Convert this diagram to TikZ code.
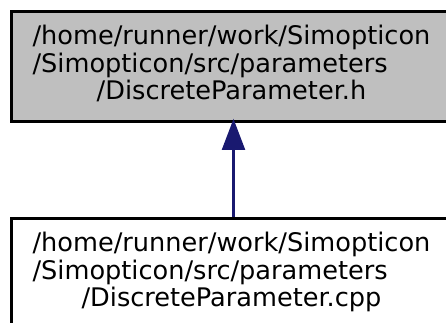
\documentclass[tikz,border=0pt]{standalone}
\usepackage{fontspec}
\setmainfont{DejaVu Sans}
\usetikzlibrary{arrows.meta}
\definecolor{boxgray}{HTML}{BFBFBF}
\definecolor{edgeblue}{HTML}{191970}
\tikzset{
  filebox/.style={draw=black, line width=2.8pt, rectangle, inner sep=0pt,
    minimum width=440pt, minimum height=110pt,
    font=\fontsize{25.6}{27.5}\selectfont},
  dep/.style={draw=edgeblue, line width=2.2pt,
    -{Triangle[length=31pt,width=23pt,fill=edgeblue]}}
}
\begin{document}
\begin{tikzpicture}[x=1pt,y=1pt]
\useasboundingbox (0,0) rectangle (446,322);
\clip (0,0) rectangle (446,322);
\node[filebox, fill=boxgray] (top) at (231.5,255.5)
  {\begin{tabular}{@{}l@{}}/home/runner/work/Simopticon\\/Simopticon/src/parameters\\\multicolumn{1}{@{}c@{}}{/DiscreteParameter.h}\end{tabular}};
\node[filebox, fill=white] (bottom) at (231.5,48.5)
  {\begin{tabular}{@{}l@{}}/home/runner/work/Simopticon\\/Simopticon/src/parameters\\\multicolumn{1}{@{}c@{}}{/DiscreteParameter.cpp}\end{tabular}};
\draw[dep] ([xshift=2pt]bottom.north) -- ([xshift=2pt,yshift=4pt]top.south);
\end{tikzpicture}
\end{document}
